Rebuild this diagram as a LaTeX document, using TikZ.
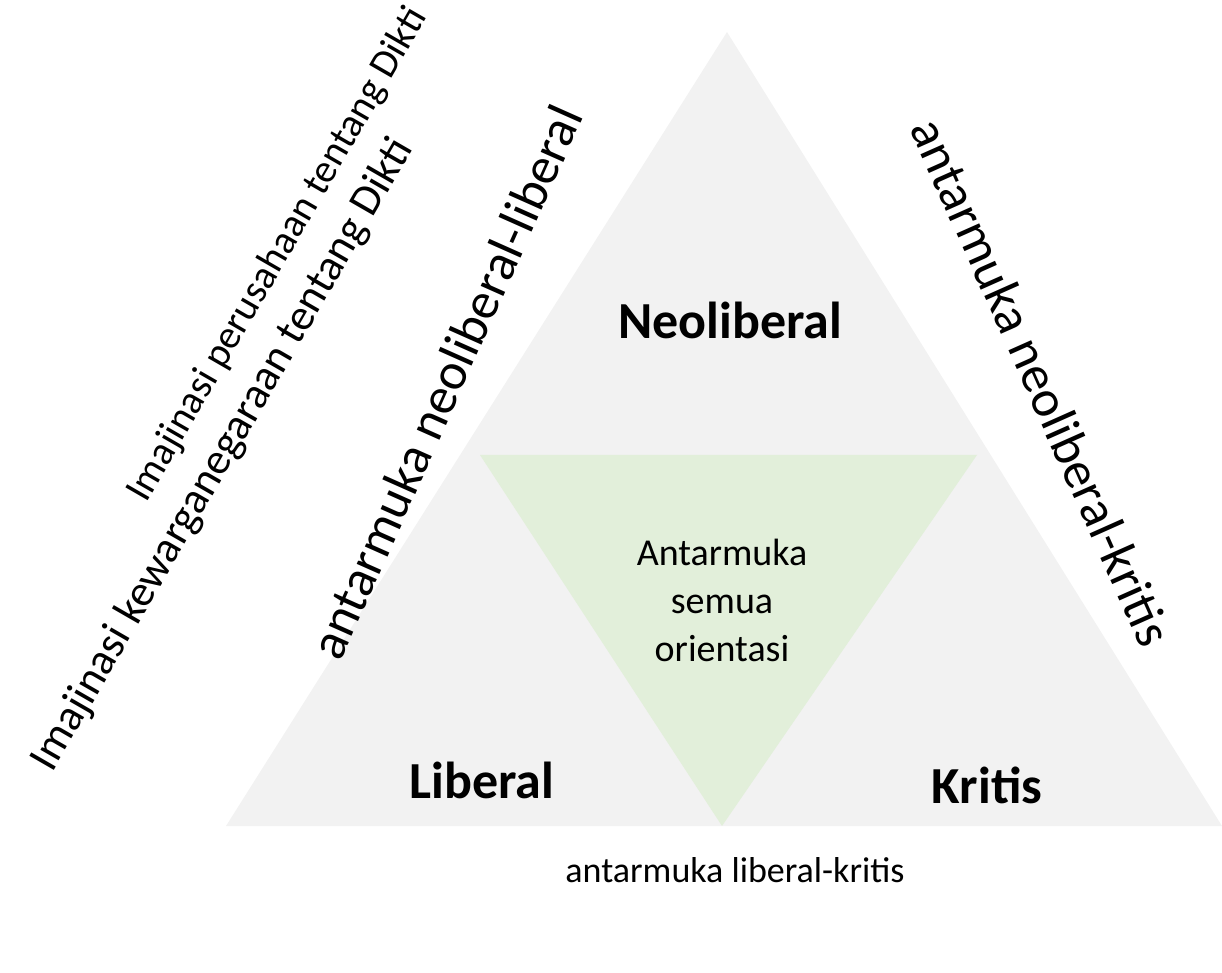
\documentclass[tikz,border=0pt]{standalone}
\usepackage{fontspec}
\setmainfont{Carlito}
\usepackage{xcolor}
\definecolor{abu}{HTML}{F2F2F2}
\definecolor{hijau}{HTML}{E2EFDA}
\tikzset{
  judul/.style={font=\fontsize{26}{31}\selectfont\bfseries},
  teks/.style={font=\fontsize{19}{24}\selectfont, align=center},
  sisi/.style={font=\fontsize{26}{31}\selectfont},
  imaji/.style={rotate=60},
}

\begin{document}
\begin{tikzpicture}[x=0.5pt,y=-0.5pt]
\useasboundingbox (0,0) rectangle (1222,973);
% segitiga besar
\coordinate (puncak) at (727,32);
\coordinate (kiri) at (226,826);
\coordinate (kanan) at (1222,826);
\fill[abu] (puncak) -- (kiri) -- (kanan) -- cycle;
% segitiga tengah
\coordinate (tkiri) at (480,455);
\coordinate (tkanan) at (977,455);
\coordinate (tbawah) at (722,826);
\fill[hijau] (tkiri) -- (tkanan) -- (tbawah) -- cycle;

\node[judul] (neo) at (730,320) {Neoliberal};
\node[judul] (lib) at (482,780) {Liberal};
\node[judul] (kri) at (987,785) {Kritis};
\node[teks] (semua) at (722,600) {Antarmuka\\semua\\orientasi};

\node[teks, font=\fontsize{18}{22}\selectfont] (ab) at (735,870) {antarmuka liberal-kritis};
\node[sisi, rotate=66] (anl) at (446,382) {antarmuka neoliberal-liberal};
\node[sisi, rotate=-66] (ank) at (1042,382) {antarmuka neoliberal-kritis};
% dua imajinasi
\node[teks, imaji, font=\fontsize{20}{24}\selectfont] (ip) at (278,255) {Imajinasi perusahaan tentang Dikti};
\node[teks, imaji, font=\fontsize{22}{26}\selectfont] (ik) at (223,455) {Imajinasi kewarganegaraan tentang Dikti};
\end{tikzpicture}
\end{document}
